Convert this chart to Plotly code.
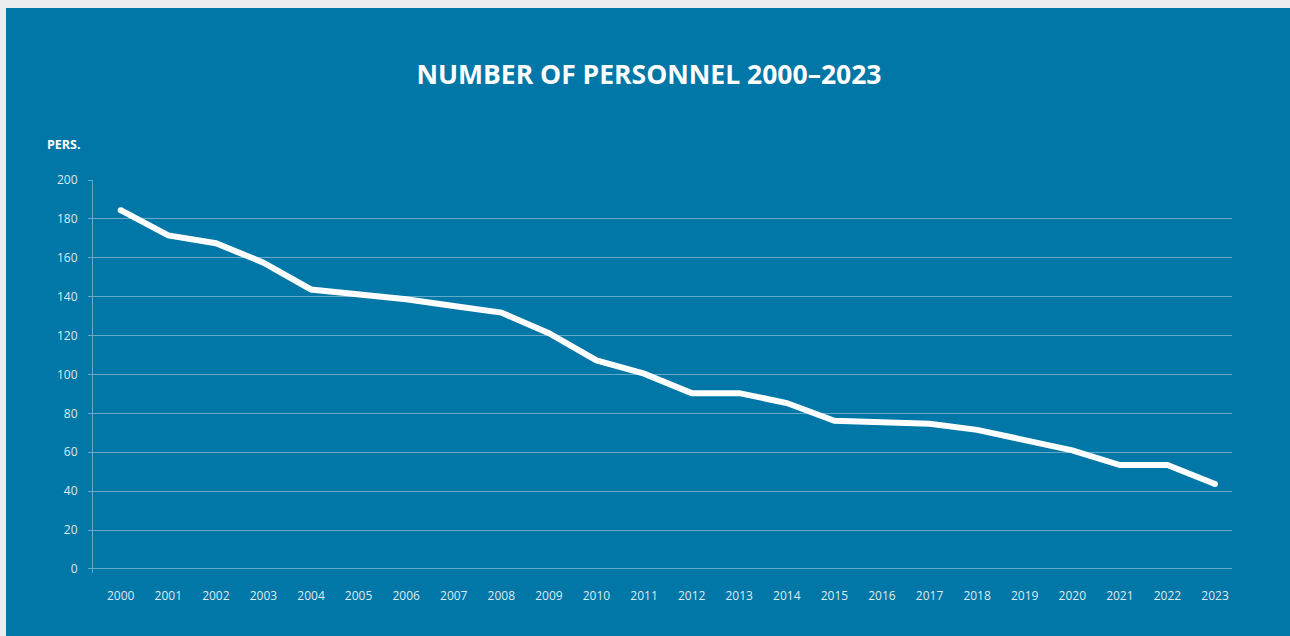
import plotly.graph_objects as go

years = list(range(2000, 2024))
personnel = [184.5, 171.5, 167.5, 157.5, 143.7, 141.4, 138.7, 135.2, 131.8, 121.2,
             107.2, 100.4, 90.4, 90.4, 85.3, 76.2, 75.6, 74.6, 71.5, 66.0,
             61.0, 53.4, 53.4, 43.7]
y_ticks = [0, 20, 40, 60, 80, 100, 120, 140, 160, 180, 200]

BLUE = "#0077A7"
GRAY = "#EAEEF1"
GRID = "rgba(255,255,255,0.38)"
TICKCOL = "rgba(255,255,255,0.88)"
FONT = "Open Sans"

fig = go.Figure()
fig.add_trace(go.Scatter(
    x=years, y=personnel, mode="lines",
    line=dict(color="white", width=6),
    hoverinfo="x+y", showlegend=False,
))
# round caps at the line ends
fig.add_trace(go.Scatter(
    x=[years[0], years[-1]], y=[personnel[0], personnel[-1]], mode="markers",
    marker=dict(color="white", size=6, line=dict(width=0)),
    hoverinfo="skip", showlegend=False,
))

W, H = 1290, 636
L, R, T, B = 93, 58, 180, 63
pw, ph = W - L - R, H - T - B

def px_x(px):
    return (px - L) / pw

def px_y(py):
    return (H - B - py) / ph

fig.update_layout(
    width=W, height=H,
    margin=dict(l=L, r=R, t=T, b=B, pad=0),
    paper_bgcolor=BLUE, plot_bgcolor=BLUE,
    font=dict(family=FONT, color=TICKCOL, size=12),
    title=dict(
        text="<b>NUMBER OF PERSONNEL 2000–2023</b>",
        font=dict(family=FONT, size=26.5, color="white"),
        x=649 / W, xref="container", xanchor="center",
        y=1 - 75 / H, yref="container", yanchor="middle",
    ),
    xaxis=dict(
        range=[1999.418, 2023.357],
        tickmode="array", tickvals=years, ticktext=[str(y) for y in years],
        showgrid=False, zeroline=False, showline=False,
        ticks="", ticklabelstandoff=14,
        tickfont=dict(family=FONT, size=12, color=TICKCOL),
        fixedrange=True,
    ),
    yaxis=dict(
        range=[-2.1, 200],
        tickmode="array", tickvals=y_ticks,
        showgrid=True, gridcolor=GRID, gridwidth=1,
        zeroline=False,
        showline=True, linecolor=GRID, linewidth=1,
        ticks="outside", ticklen=4, tickcolor=GRID, tickwidth=1,
        ticklabelstandoff=8,
        tickfont=dict(family=FONT, size=12, color=TICKCOL),
        fixedrange=True,
    ),
    shapes=[
        dict(type="rect", xref="paper", yref="paper",
             x0=px_x(0), x1=px_x(W), y0=px_y(8), y1=px_y(0),
             fillcolor=GRAY, line=dict(width=0), layer="above"),
        dict(type="rect", xref="paper", yref="paper",
             x0=px_x(0), x1=px_x(6), y0=px_y(H), y1=px_y(0),
             fillcolor=GRAY, line=dict(width=0), layer="above"),
    ],
    annotations=[
        dict(text="<b>PERS.</b>", xref="paper", yref="paper",
             x=px_x(45), y=px_y(144), xanchor="left", yanchor="middle",
             showarrow=False, font=dict(family=FONT, size=12.5, color="white")),
    ],
)

fig.write_html("out.html")
